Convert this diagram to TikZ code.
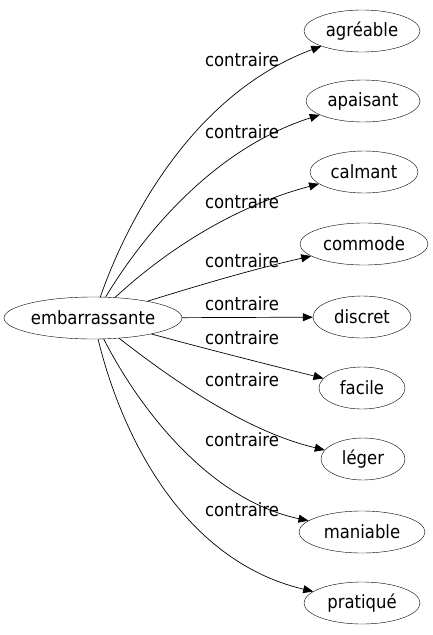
\documentclass[tikz,border=0pt]{standalone}
\usepackage{fontspec}
\setmainfont{DejaVu Sans Condensed}
\usetikzlibrary{arrows.meta,shapes.geometric}
\begin{document}
\begin{tikzpicture}[x=1pt,y=-1pt,
  every node/.style={font=\fontsize{18.3}{21}\selectfont},
  word/.style={draw,ellipse,inner sep=0pt,minimum height=42pt},
  lbl/.style={inner sep=0pt,anchor=center},
  edge/.style={-{Triangle[length=10pt,width=8pt]},line width=0.7pt}]
\useasboundingbox (0,0) rectangle (433,635);
\node[word,minimum width=178pt] (emb) at (93,318) {embarrassante};
\node[word,minimum width=116pt] (agr) at (362,31) {agréable};
\node[word,minimum width=114pt] (apa) at (363,101) {apaisant};
\node[word,minimum width=108pt] (cal) at (364,172) {calmant};
\node[word,minimum width=128pt] (com) at (364,244) {commode};
\node[word,minimum width=98pt] (dis) at (362,317) {discret};
\node[word,minimum width=86pt] (fac) at (362,388) {facile};
\node[word,minimum width=84pt] (leg) at (363,459) {léger};
\node[word,minimum width=126pt] (man) at (362,532) {maniable};
\node[word,minimum width=116pt] (pra) at (362,603) {pratiqué};
\node[lbl] (l1) at (242,60) {contraire};
\node[lbl] (l2) at (242,132) {contraire};
\node[lbl] (l3) at (242,202) {contraire};
\node[lbl] (l4) at (242,261) {contraire};
\node[lbl] (l5) at (242,304) {contraire};
\node[lbl] (l6) at (242,338) {contraire};
\node[lbl] (l7) at (242,380) {contraire};
\node[lbl] (l8) at (242,440) {contraire};
\node[lbl] (l9) at (242,510) {contraire};
\draw[edge] (emb) .. controls (125,226) and (190,95) .. (agr);
\draw[edge] (emb) .. controls (140,240) and (210,150) .. (apa);
\draw[edge] (emb) .. controls (150,265) and (220,210) .. (cal);
\draw[edge] (emb) .. controls (200,285) and (250,270) .. (com);
\draw[edge] (emb) -- (dis);
\draw[edge] (emb) .. controls (210,350) and (270,365) .. (fac);
\draw[edge] (emb) .. controls (160,370) and (240,430) .. (leg);
\draw[edge] (emb) .. controls (140,410) and (210,500) .. (man);
\draw[edge] (emb) .. controls (120,430) and (180,560) .. (pra);
\end{tikzpicture}
\end{document}
